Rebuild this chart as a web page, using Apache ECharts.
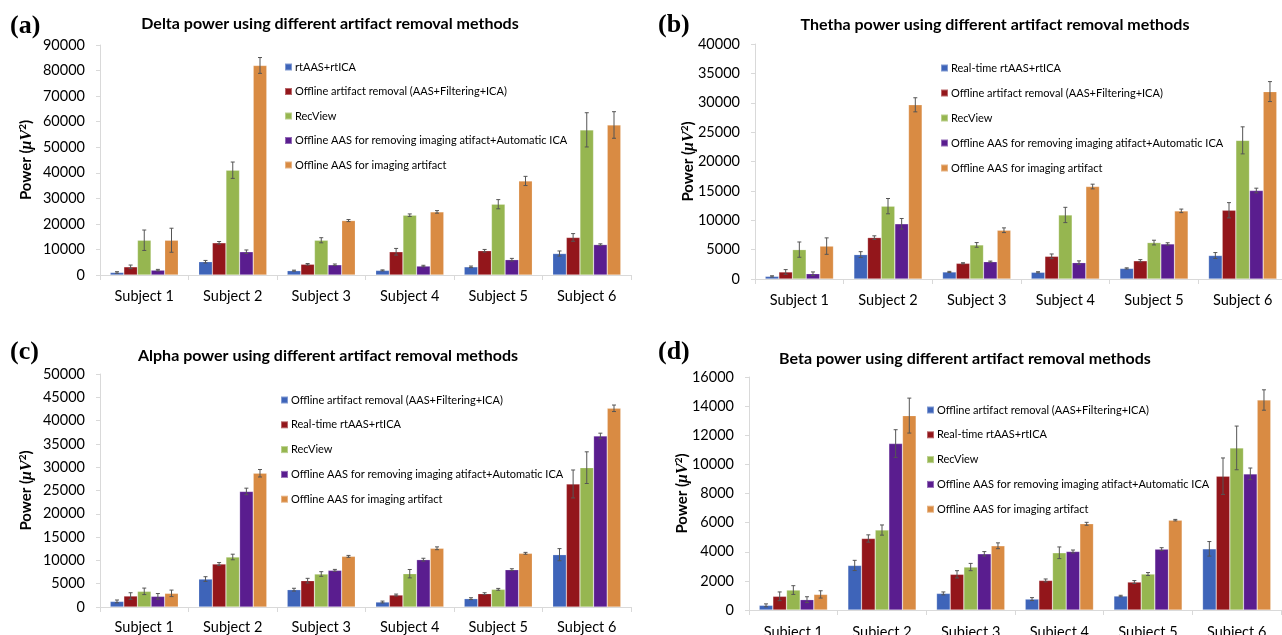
<!DOCTYPE html>
<html>
<head>
<meta charset="utf-8">
<script src="https://cdn.jsdelivr.net/npm/echarts@6/dist/echarts.min.js"></script>
<style>
html,body{margin:0;padding:0;background:#fff;}
#wrap{position:relative;width:1282px;height:635px;overflow:hidden;}
.p{position:absolute;}
</style>
</head>
<body>
<div id="wrap">
  <div id="pa" class="p" style="left:0;top:0;width:640px;height:318px;"></div>
  <div id="pb" class="p" style="left:640px;top:0;width:660px;height:318px;"></div>
  <div id="pc" class="p" style="left:0;top:318px;width:640px;height:317px;"></div>
  <div id="pd" class="p" style="left:640px;top:318px;width:660px;height:317px;"></div>
</div>
<script>
// ---------- DATA ----------
const categories = ['Subject 1','Subject 2','Subject 3','Subject 4','Subject 5','Subject 6'];

// (a) Delta
const deltaNames = ['rtAAS+rtICA','Offline artifact removal (AAS+Filtering+ICA)','RecView','Offline AAS for removing imaging atifact+Automatic ICA','Offline AAS for imaging artifact'];
const deltaS1 = [1000, 5200, 1700, 1800, 3200, 8400];
const deltaS2 = [3200, 12600, 4200, 9100, 9500, 14700];
const deltaS3 = [13600, 41000, 13600, 23400, 27700, 56800];
const deltaS4 = [1900, 9100, 4000, 3500, 6000, 11900];
const deltaS5 = [13600, 82000, 21300, 24700, 36800, 58700];
const deltaE1 = [300, 500, 200, 200, 300, 1000];
const deltaE2 = [700, 500, 300, 1300, 500, 1500];
const deltaE3 = [4000, 3200, 1000, 500, 1800, 6700];
const deltaE4 = [300, 700, 300, 300, 500, 300];
const deltaE5 = [4700, 3100, 400, 500, 1800, 5200];
const deltaTicks = [0, 90000, 10000];

// (b) Theta
const thetaNames = ['Real-time rtAAS+rtICA','Offline artifact removal (AAS+Filtering+ICA)','RecView','Offline AAS for removing imaging atifact+Automatic ICA','Offline AAS for imaging artifact'];
const thetaS1 = [450, 4150, 1200, 1140, 1800, 4000];
const thetaS2 = [1200, 7050, 2670, 3860, 3100, 11700];
const thetaS3 = [5000, 12400, 5800, 10900, 6200, 23600];
const thetaS4 = [900, 9400, 2950, 2780, 5970, 15060];
const thetaS5 = [5600, 29650, 8300, 15740, 11600, 31900];
const thetaE1 = [100, 500, 100, 100, 100, 500];
const thetaE2 = [400, 300, 100, 400, 200, 1300];
const thetaE3 = [1300, 1300, 400, 1300, 400, 2300];
const thetaE4 = [300, 900, 100, 300, 200, 400];
const thetaE5 = [1400, 1200, 400, 400, 300, 1700];
const thetaTicks = [0, 40000, 5000];

// (c) Alpha
const alphaNames = ['Offline artifact removal (AAS+Filtering+ICA)','Real-time rtAAS+rtICA','RecView','Offline AAS for removing imaging atifact+Automatic ICA','Offline AAS for imaging artifact'];
const alphaS1 = [1200, 6000, 3720, 1070, 1790, 11230];
const alphaS2 = [2360, 9230, 5650, 2570, 2860, 26400];
const alphaS3 = [3360, 10730, 7080, 7150, 3790, 29900];
const alphaS4 = [2290, 24800, 7870, 10160, 8010, 36700];
const alphaS5 = [2930, 28700, 10870, 12600, 11520, 42640];
const alphaE1 = [300, 500, 300, 200, 200, 1300];
const alphaE2 = [700, 300, 500, 200, 200, 3000];
const alphaE3 = [700, 600, 500, 900, 200, 3400];
const alphaE4 = [600, 700, 200, 300, 200, 600];
const alphaE5 = [700, 800, 200, 300, 200, 700];
const alphaTicks = [0, 50000, 5000];

// (d) Beta
const betaNames = ['Offline artifact removal (AAS+Filtering+ICA)','Real-time rtAAS+rtICA','RecView','Offline AAS for removing imaging atifact+Automatic ICA','Offline AAS for imaging artifact'];
const betaS1 = [320, 3060, 1140, 750, 960, 4200];
const betaS2 = [940, 4910, 2450, 2030, 1920, 9190];
const betaS3 = [1370, 5490, 2950, 3930, 2470, 11130];
const betaS4 = [710, 11430, 3860, 4020, 4180, 9350];
const betaS5 = [1070, 13350, 4410, 5920, 6170, 14420];
const betaE1 = [100, 350, 100, 100, 50, 500];
const betaE2 = [300, 250, 250, 100, 100, 1250];
const betaE3 = [300, 350, 250, 400, 100, 1500];
const betaE4 = [200, 950, 150, 100, 100, 400];
const betaE5 = [250, 1200, 200, 100, 50, 700];
const betaTicks = [0, 16000, 2000];

// ---------- STYLE ----------
const colors = ['#3E64B9','#93161B','#96B650','#5A1D8F','#D98B43'];
const GAP = 0.23;
const FONT = 'Lato, "Open Sans", sans-serif';
const axisGray = '#D9D9D9';

function build(cfg){
  const series = [];
  cfg.vals.forEach((vals, i) => {
    series.push({
      name: cfg.names[i], type: 'bar', data: vals,
      barGap: '0%', barCategoryGap: (GAP*100)+'%',
      itemStyle: {color: colors[i], borderColor: 'rgba(255,255,255,0.35)', borderWidth: 0.6},
      z: 2
    });
  });
  cfg.vals.forEach((vals, i) => {
    const errs = cfg.errs[i];
    series.push({
      type: 'custom', name: cfg.names[i] + '_err', z: 5, silent: true,
      data: vals.map((v, k) => [k, v, errs[k]]),
      renderItem: function(params, api){
        const k = api.value(0), v = api.value(1), e = api.value(2);
        const band = api.size([1, 0])[0];
        const bw = band * (1 - GAP) / 5;
        const off = (i - 2) * bw;
        const top = api.coord([k, v + e]);
        const bot = api.coord([k, v - e]);
        const cx = top[0] + off;
        const cap = 2;
        const st = {stroke: '#555', lineWidth: 1};
        return {type: 'group', children: [
          {type: 'line', shape: {x1: cx, y1: top[1], x2: cx, y2: bot[1]}, style: st},
          {type: 'line', shape: {x1: cx - cap, y1: top[1], x2: cx + cap, y2: top[1]}, style: st},
          {type: 'line', shape: {x1: cx - cap, y1: bot[1], x2: cx + cap, y2: bot[1]}, style: st}
        ]};
      }
    });
  });
  return {
    animation: false,
    backgroundColor: '#fff',
    textStyle: {fontFamily: FONT},
    title: {text: cfg.title, left: cfg.titleX, top: cfg.titleY, textAlign: 'center',
      textStyle: {fontFamily: FONT, fontWeight: 'bold', fontSize: 16, color: '#000'}},
    graphic: [{type: 'text', left: cfg.labX, top: cfg.labY,
      style: {text: cfg.label, font: 'bold 26px "Liberation Serif", "DejaVu Serif", serif', fill: '#000'}}],
    legend: {orient: 'vertical', left: cfg.legX, top: cfg.legY, itemWidth: 7, itemHeight: 7, itemGap: cfg.legGap,
      icon: 'rect', data: cfg.names, selectedMode: false,
      textStyle: {fontFamily: FONT, fontSize: 11, lineHeight: 12, color: '#000', padding: [0, 0, 0, -2]}},
    grid: {left: cfg.grid[0], top: cfg.grid[1], right: cfg.grid[2], bottom: cfg.grid[3], containLabel: false, outerBoundsMode: 'none'},
    xAxis: {type: 'category', data: categories,
      axisLine: {lineStyle: {color: axisGray, width: 1}},
      axisTick: {show: true, length: 5, lineStyle: {color: axisGray}},
      axisLabel: {fontFamily: FONT, fontSize: 14.5, color: '#000', margin: cfg.xMargin, interval: 0}},
    yAxis: {type: 'value', min: cfg.ticks[0], max: cfg.ticks[1], interval: cfg.ticks[2],
      name: '{a|Power (}{b|μV}{c|2}{a|)}', nameLocation: 'middle', nameGap: cfg.nameGap, nameMoveOverlap: false,
      nameTextStyle: {rich: {
        a: {fontFamily: FONT, fontWeight: 'bold', fontSize: 15, color: '#000'},
        b: {fontFamily: '"Liberation Serif", serif', fontStyle: 'italic', fontWeight: 'bold', fontSize: 16, color: '#000'},
        c: {fontFamily: FONT, fontWeight: 'bold', fontSize: 10, color: '#000', verticalAlign: 'top', padding: [0,0,7,0]}
      }},
      axisLine: {show: true, lineStyle: {color: axisGray, width: 1}},
      axisTick: {show: true, length: 4, lineStyle: {color: axisGray}},
      splitLine: {show: false},
      axisLabel: {fontFamily: FONT, fontSize: 14.5, color: '#000', margin: 15, formatter: v => String(v)}},
    series: series
  };
}

const panels = [
  {id: 'pa', label: '(a)', labX: 10, labY: 13, title: 'Delta power using different artifact removal methods', titleX: 325, titleY: 11,
   names: deltaNames, vals: [deltaS1, deltaS2, deltaS3, deltaS4, deltaS5], errs: [deltaE1, deltaE2, deltaE3, deltaE4, deltaE5],
   ticks: deltaTicks, grid: [100, 45, 9, 43], legX: 279, legY: 56, legGap: 12.5, nameGap: 65, xMargin: 14},
  {id: 'pb', label: '(b)', labX: 18, labY: 12, title: 'Thetha power using different artifact removal methods', titleX: 350, titleY: 12,
   names: thetaNames, vals: [thetaS1, thetaS2, thetaS3, thetaS4, thetaS5], errs: [thetaE1, thetaE2, thetaE3, thetaE4, thetaE5],
   ticks: thetaTicks, grid: [115, 44, 13, 39], legX: 295, legY: 57, legGap: 13, nameGap: 58, xMargin: 14},
  {id: 'pc', label: '(c)', labX: 10, labY: 21, title: 'Alpha power using different artifact removal methods', titleX: 323, titleY: 25,
   names: alphaNames, vals: [alphaS1, alphaS2, alphaS3, alphaS4, alphaS5], errs: [alphaE1, alphaE2, alphaE3, alphaE4, alphaE5],
   ticks: alphaTicks, grid: [100, 56, 9, 28], legX: 275, legY: 71, legGap: 12.8, nameGap: 65, xMargin: 13},
  {id: 'pd', label: '(d)', labX: 18, labY: 21, title: 'Beta power using different artifact removal methods', titleX: 320, titleY: 28,
   names: betaNames, vals: [betaS1, betaS2, betaS3, betaS4, betaS5], errs: [betaE1, betaE2, betaE3, betaE4, betaE5],
   ticks: betaTicks, grid: [109, 59, 19, 25], legX: 281, legY: 81, legGap: 12.8, nameGap: 58, xMargin: 15}
];

panels.forEach(cfg => {
  const chart = echarts.init(document.getElementById(cfg.id), null, {renderer: 'canvas'});
  chart.setOption(build(cfg));
});
</script>
</body>
</html>
